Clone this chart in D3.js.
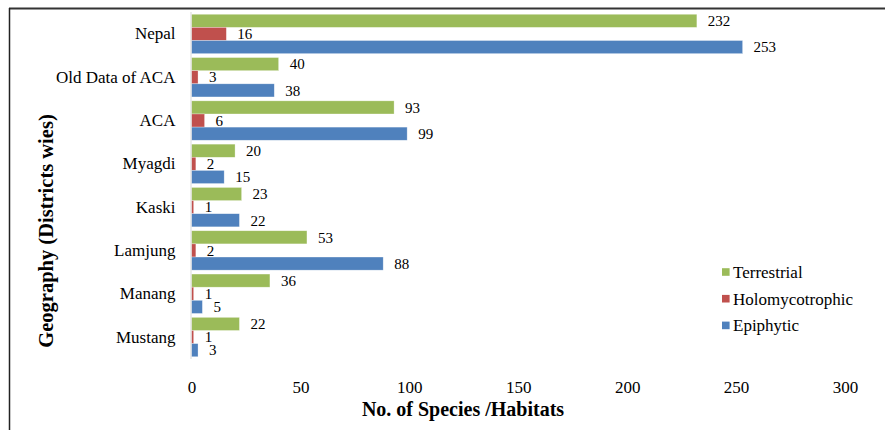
<!DOCTYPE html>
<html>
<head>
<meta charset="utf-8">
<script src="https://cdn.jsdelivr.net/npm/d3@7"></script>
<style>
	body { margin: 0; background: #fff; }
	.tick line, .domain { display: none; }
</style>
</head>
<body>
<div id="container"></div>
<script>
	// data
	var districts = ["Nepal", "Old Data of ACA", "ACA", "Myagdi", "Kaski", "Lamjung", "Manang", "Mustang"];
	var terrestrial = [232, 40, 93, 20, 23, 53, 36, 22];
	var holomycotrophic = [16, 3, 6, 2, 1, 2, 1, 1];
	var epiphytic = [253, 38, 99, 15, 22, 88, 5, 3];
	var seriesNames = ["Terrestrial", "Holomycotrophic", "Epiphytic"];
	var seriesColors = ["#9bbb59", "#c0504d", "#4f81bd"];
	var xTicks = [0, 50, 100, 150, 200, 250, 300];

	var width = 885, height = 430;
	var serif = "Liberation Serif, Tinos, DejaVu Serif, serif";

	var svg = d3.select("#container").append("svg")
		.attr("width", width)
		.attr("height", height)
		.attr("font-family", serif);

	// frame
	svg.append("line")
		.attr("x1", 9).attr("y1", 8.5).attr("x2", width).attr("y2", 8.5)
		.style("stroke", "#333").style("stroke-width", 2);
	svg.append("line")
		.attr("x1", 9.5).attr("y1", 8).attr("x2", 9.5).attr("y2", height)
		.style("stroke", "#222").style("stroke-width", 1.5);

	var x = d3.scaleLinear().domain([0, 300]).range([191.5, 845]);
	var y = d3.scaleBand().domain(districts).range([12.3, 358.7])
		.paddingInner(0.09).paddingOuter(0.045);
	var sub = d3.scaleBand().domain(seriesNames).range([0, y.bandwidth()]);

	var series = [terrestrial, holomycotrophic, epiphytic];

	var groups = svg.selectAll("g.group")
		.data(districts)
		.enter().append("g")
		.attr("class", "group")
		.attr("transform", function(d) { return "translate(0," + y(d) + ")"; });

	seriesNames.forEach(function(name, si) {
		groups.append("rect")
			.attr("x", x(0))
			.attr("y", sub(name))
			.attr("width", function(d, i) { return x(series[si][i]) - x(0); })
			.attr("height", sub.bandwidth())
			.attr("fill", seriesColors[si])
			.style("stroke", "#fff")
			.style("stroke-opacity", 0.5)
			.style("stroke-width", 0.6);

		groups.append("text")
			.attr("x", function(d, i) { return x(series[si][i]) + 11; })
			.attr("y", sub(name) + sub.bandwidth() / 2)
			.attr("dy", "0.35em")
			.attr("font-size", "15px")
			.text(function(d, i) { return series[si][i]; });
	});

	// category axis line
	svg.append("line")
		.attr("x1", x(0) - 0.5).attr("x2", x(0) - 0.5)
		.attr("y1", 12).attr("y2", 359)
		.style("stroke", "#d9d9d9").style("stroke-width", 1);

	// y axis labels
	svg.append("g")
		.attr("transform", "translate(" + (x(0) - 2) + ",0)")
		.call(d3.axisLeft(y).tickSize(0).tickPadding(14))
		.attr("font-family", serif)
		.attr("font-size", "17px")
		.call(function(g) { g.selectAll("text").attr("fill", "#000"); });

	// x axis labels
	svg.append("g")
		.attr("transform", "translate(0,378)")
		.call(d3.axisBottom(x).tickValues(xTicks).tickSize(0).tickPadding(3))
		.attr("font-family", serif)
		.attr("font-size", "17px")
		.call(function(g) { g.selectAll("text").attr("fill", "#000"); });

	// titles
	svg.append("text")
		.attr("x", 463).attr("y", 416)
		.attr("text-anchor", "middle")
		.attr("font-weight", "bold")
		.attr("font-size", "20px")
		.text("No. of Species /Habitats");

	svg.append("text")
		.attr("transform", "translate(53,231) rotate(-90)")
		.attr("text-anchor", "middle")
		.attr("font-weight", "bold")
		.attr("font-size", "20.5px")
		.text("Geography (Districts wies)");

	// legend
	var legend = svg.append("g").attr("transform", "translate(722,272)");
	seriesNames.forEach(function(name, i) {
		var row = legend.append("g").attr("transform", "translate(0," + (i * 26.7) + ")");
		row.append("rect")
			.attr("x", 0).attr("y", -3.8)
			.attr("width", 7.6).attr("height", 7.6)
			.attr("fill", seriesColors[i]);
		row.append("text")
			.attr("x", 11).attr("y", 0)
			.attr("dy", "0.35em")
			.attr("font-size", "17px")
			.text(name);
	});
</script>
</body>
</html>
